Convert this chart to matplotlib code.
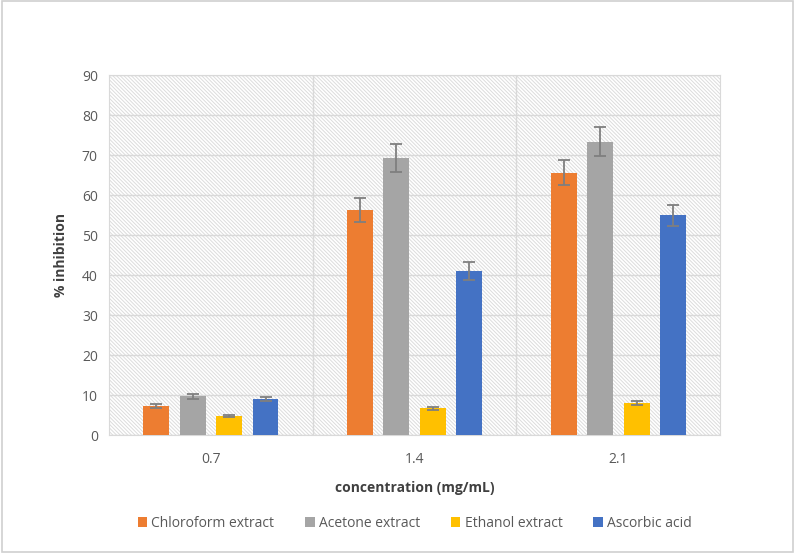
import numpy as np
import matplotlib
matplotlib.use("Agg")
import matplotlib.pyplot as plt
from matplotlib.patches import Rectangle

concentrations = ["0.7", "1.4", "2.1"]
series_names = ["Chloroform extract", "Acetone extract", "Ethanol extract", "Ascorbic acid"]
chloroform = [7.2, 56.3, 65.6]
acetone = [9.7, 69.3, 73.3]
ethanol = [4.8, 6.7, 8.0]
ascorbic = [9.0, 41.0, 54.9]
chloroform_err = [0.5, 3.0, 3.2]
acetone_err = [0.6, 3.5, 3.6]
ethanol_err = [0.3, 0.4, 0.5]
ascorbic_err = [0.4, 2.2, 2.7]
colors = ["#ED7D31", "#A5A5A5", "#FFC000", "#4472C4"]

plt.rcParams["font.family"] = ["Open Sans", "DejaVu Sans"]
plt.rcParams["hatch.color"] = "#dcdcdc"
plt.rcParams["hatch.linewidth"] = 0.7

fig = plt.figure(figsize=(7.95, 5.54), dpi=100)
fig.patches.append(Rectangle((0.002, 0.004), 0.995, 0.994, transform=fig.transFigure,
                             fill=False, edgecolor="#d0d0d0", linewidth=1.2))
ax = fig.add_axes([0.137, 0.2148, 0.769, 0.6498])

# hatched plot-area background
ax.add_patch(Rectangle((0, 0), 1, 1, transform=ax.transAxes, facecolor="white",
                       hatch="\\" * 9, edgecolor="#dcdcdc", linewidth=0, zorder=0))

x = np.arange(len(concentrations))
step = 0.179
width = 0.127
values = [chloroform, acetone, ethanol, ascorbic]
errs = [chloroform_err, acetone_err, ethanol_err, ascorbic_err]
for i, (vals, err, name, c) in enumerate(zip(values, errs, series_names, colors)):
    ax.bar(x + (i - 1.5) * step, vals, width, color=c, label=name, zorder=3,
           yerr=err, error_kw=dict(ecolor="#7f7f7f", elinewidth=1.3, capsize=4, capthick=1.3, zorder=4))

ax.set_xlim(-0.5, 2.5)
ax.set_ylim(0, 90)
ax.set_yticks(range(0, 91, 10))
ax.set_xticks(x)
ax.set_xticklabels(concentrations)
for b in [0.5, 1.5]:
    ax.axvline(b, color="#d9d9d9", linewidth=1, zorder=1)
ax.yaxis.grid(True, color="#d9d9d9", linewidth=1, zorder=1)
ax.set_axisbelow(True)
for s in ax.spines.values():
    s.set_color("#d9d9d9")
ax.tick_params(length=0, labelsize=10, colors="#595959", pad=8)
ax.tick_params(axis="x", pad=12)
ax.set_xlabel("concentration (mg/mL)", fontsize=10, fontweight="bold", color="#404040", labelpad=10)
ax.set_ylabel("% inhibition", fontsize=10, fontweight="bold", color="#404040", labelpad=10)

ax.legend(loc="center", bbox_to_anchor=(0.5, -0.245), ncol=4, frameon=False, fontsize=10,
          handlelength=0.7, handleheight=0.7, handletextpad=0.3, columnspacing=2.2,
          labelcolor="#595959")

fig.savefig("out.png", dpi=100)
